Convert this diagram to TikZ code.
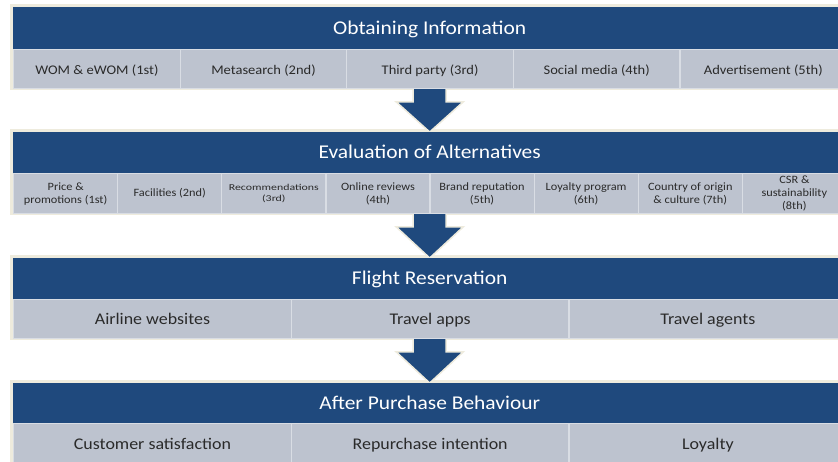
\documentclass[tikz,border=0pt]{standalone}
\usepackage{fontspec}
\setmainfont{Carlito}[FakeStretch=1.1]
\newfontfamily\recfont{Carlito}[FakeStretch=1.32]
\usetikzlibrary{calc}
\definecolor{hdrblue}{HTML}{1F497D}
\definecolor{cellgray}{HTML}{BDC3CF}
\definecolor{cellline}{HTML}{D9DDE4}
\definecolor{celltext}{HTML}{2A2A2A}
\definecolor{glow}{HTML}{EEEBDD}
\pgfdeclarelayer{background}
\pgfsetlayers{background,main}
\tikzset{
  hdr/.style={rectangle, fill=hdrblue, text=white, inner sep=0pt, anchor=north west,
    minimum width=833pt, font=\fontsize{19.5}{23}\selectfont, text height=15pt, text depth=3pt},
  rowbar/.style={rectangle, fill=cellgray, inner sep=0pt, anchor=north west, minimum width=833pt},
  cell/.style={rectangle, fill=cellgray, draw=cellline, line width=1.2pt, inner sep=0pt,
    anchor=north west, text=celltext, align=center},
  cellA/.style={cell, minimum width=166.6pt, minimum height=39pt, font=\fontsize{13.2}{15}\selectfont,
    text height=11pt, text depth=0pt},
  cellB/.style={cell, minimum width=104.1pt, minimum height=40pt, font=\fontsize{11.2}{13}\selectfont},
  cellC/.style={cell, minimum width=277.7pt, minimum height=39pt, font=\fontsize{16.3}{19}\selectfont,
    text height=13pt, text depth=2pt},
  cellD/.style={cell, minimum width=277.7pt, minimum height=40pt, font=\fontsize{16.3}{19}\selectfont,
    text height=13pt, text depth=1pt},
  bigarrow/.style={fill=hdrblue, draw=glow, line width=1.5pt, line join=miter},
  glowbox/.style={fill=glow}
}
\begin{document}
\begin{tikzpicture}[x=1pt,y=-1pt]
\useasboundingbox (0,0) rectangle (838,461);
\clip (0,0) rectangle (838,461);

% ---------- Block 1 ----------
\node[hdr, minimum height=42pt] (h1) at (13,7) {Obtaining Information};
\node[rowbar, minimum height=39pt] (r1) at (13,49) {};
\node[cellA] (c11) at (13,49)    {WOM \& eWOM (1st)};
\node[cellA] (c12) at (179.6,49) {Metasearch (2nd)};
\node[cellA] (c13) at (346.2,49) {Third party (3rd)};
\node[cellA] (c14) at (512.8,49) {Social media (4th)};
\node[cellA] (c15) at (679.4,49) {Advertisement (5th)};

% ---------- Block 2 ----------
\node[hdr, minimum height=41pt] (h2) at (13,132) {Evaluation of Alternatives};
\node[rowbar, minimum height=40pt] (r2) at (13,173) {};
\node[cellB] (c21) at (13,173)    {Price \&\\promotions (1st)};
\node[cellB] (c22) at (117.1,173) {Facilities (2nd)};
\node[cellB, font=\recfont\fontsize{9}{11}\selectfont] (c23) at (221.2,173) {Recommendations\\(3rd)};
\node[cellB] (c24) at (325.3,173) {Online reviews\\(4th)};
\node[cellB] (c25) at (429.4,173) {Brand reputation\\(5th)};
\node[cellB] (c26) at (533.5,173) {Loyalty program\\(6th)};
\node[cellB] (c27) at (637.6,173) {Country of origin\\\& culture (7th)};
\node[cellB] (c28) at (741.7,173) {CSR \&\\sustainability\\(8th)};

% ---------- Block 3 ----------
\node[hdr, minimum height=41pt] (h3) at (13,258) {Flight Reservation};
\node[rowbar, minimum height=39pt] (r3) at (13,299) {};
\node[cellC] (c31) at (13,299)    {Airline websites};
\node[cellC] (c32) at (290.7,299) {Travel apps};
\node[cellC] (c33) at (568.4,299) {Travel agents};

% ---------- Block 4 ----------
\node[hdr, minimum height=40pt] (h4) at (13,383) {After Purchase Behaviour};
\node[rowbar, minimum height=40pt] (r4) at (13,423) {};
\node[cellD] (c41) at (13,423)    {Customer satisfaction};
\node[cellD] (c42) at (290.7,423) {Repurchase intention};
\node[cellD] (c43) at (568.4,423) {Loyalty};

\begin{pgfonlayer}{background}
  \fill[white] (0,0) rectangle (838,461);
  % soft edges round the blocks
  \fill[glowbox] ([shift={(-3pt,3pt)}]h1.north west) rectangle ([shift={(3pt,-2pt)}]r1.south east);
  \fill[glowbox] ([shift={(-3pt,3pt)}]h2.north west) rectangle ([shift={(3pt,-2pt)}]r2.south east);
  \fill[glowbox] ([shift={(-3pt,3pt)}]h3.north west) rectangle ([shift={(3pt,-2pt)}]r3.south east);
  \fill[glowbox] ([shift={(-3pt,3pt)}]h4.north west) rectangle ([shift={(3pt,-2pt)}]r4.south east);
  % block arrows
  \foreach \a/\b in {r1/h2, r2/h3, r3/h4}{
    \draw[bigarrow]
      ([xshift=-16.5pt,yshift=1pt]\a.south) --
      ([xshift=-16.5pt,yshift=-13.5pt]\a.south) --
      ([xshift=-33.5pt,yshift=-13.5pt]\a.south) --
      (\b.north) --
      ([xshift=33.5pt,yshift=-13.5pt]\a.south) --
      ([xshift=16.5pt,yshift=-13.5pt]\a.south) --
      ([xshift=16.5pt,yshift=1pt]\a.south) -- cycle;
  }
\end{pgfonlayer}
\end{tikzpicture}
\end{document}
